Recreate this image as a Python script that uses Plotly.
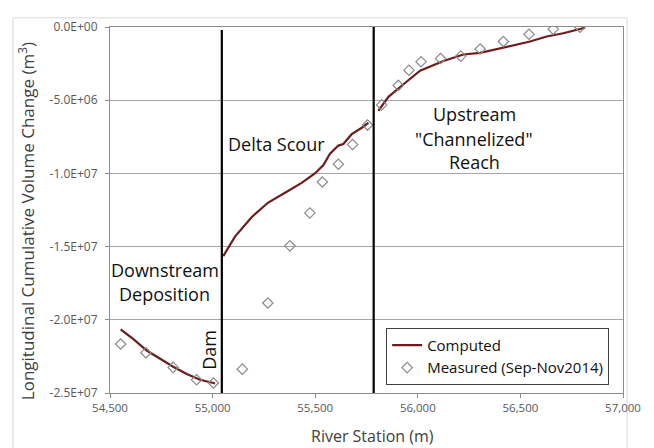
import plotly.graph_objects as go

# Computed series (three reaches)
comp_down_x = [54552, 54614, 54679, 54744, 54808, 54874, 54939, 55004, 55012]
comp_down_y = [-2.065e7, -2.132e7, -2.21e7, -2.265e7, -2.321e7, -2.37e7, -2.41e7, -2.432e7, -2.435e7]
comp_delta_x = [55052, 55109, 55190, 55271, 55353, 55434, 55500, 55540, 55572, 55613, 55637, 55678, 55727, 55759]
comp_delta_y = [-1.565e7, -1.432e7, -1.299e7, -1.199e7, -1.132e7, -1.065e7, -9.99e6, -9.43e6, -8.65e6,
                -8.1e6, -7.99e6, -7.32e6, -6.88e6, -6.55e6]
comp_up_x = [55808, 55857, 55914, 56011, 56125, 56222, 56304, 56417, 56547, 56628, 56709, 56815]
comp_up_y = [-5.72e6, -4.77e6, -4.1e6, -2.99e6, -2.32e6, -1.88e6, -1.77e6, -1.43e6, -9.9e5, -6.5e5, -4.3e5, -5e4]

# Measured series
meas_x = [54552, 54675, 54808, 54922, 55004, 55145, 55269, 55377, 55474, 55535, 55613, 55682, 55755,
          55824, 55905, 55957, 56016, 56111, 56209, 56304, 56417, 56542, 56660, 56790]
meas_y = [-2.165e7, -2.225e7, -2.325e7, -2.41e7, -2.432e7, -2.337e7, -1.885e7, -1.495e7, -1.27e7, -1.059e7,
          -9.37e6, -8.03e6, -6.7e6, -5.32e6, -3.99e6, -2.95e6, -2.37e6, -2.15e6, -1.99e6, -1.5e6,
          -9.9e5, -5e5, -1.5e5, -2e4]

# Reach boundaries
dam_station = 55045
upstream_boundary = 55785

y_tickvals = [0, -5e6, -1e7, -1.5e7, -2e7, -2.5e7]
y_ticktext = ["0.0E+00", "-5.0E+06", "-1.0E+07", "-1.5E+07", "-2.0E+07", "-2.5E+07"]
x_tickvals = [54500, 55000, 55500, 56000, 56500, 57000]

line_color = "#6e1c1c"
marker_color = "#8a8a8a"
font_family = "'Open Sans', Lato, sans-serif"

fig = go.Figure()
for i, (xs, ys) in enumerate([(comp_down_x, comp_down_y), (comp_delta_x, comp_delta_y), (comp_up_x, comp_up_y)]):
    fig.add_trace(go.Scatter(x=xs, y=ys, mode="lines", name="Computed",
                             line=dict(color=line_color, width=2.2),
                             showlegend=(i == 0), legendgroup="c"))
fig.add_trace(go.Scatter(x=meas_x, y=meas_y, mode="markers", name="Measured (Sep-Nov2014)",
                         marker=dict(symbol="diamond-open", size=8, color=marker_color, line=dict(width=1.2))))

fig.add_shape(type="line", xref="x", yref="y", x0=dam_station, x1=dam_station, y0=-2.5e7, y1=-2e5,
              line=dict(color="black", width=2.2))
fig.add_shape(type="line", xref="x", yref="y", x0=upstream_boundary, x1=upstream_boundary, y0=-2.5e7, y1=0,
              line=dict(color="black", width=2.2))
# outer chart frame
fig.add_shape(type="rect", xref="paper", yref="paper", x0=-0.189, x1=1.008, y0=-0.25, y1=1.025,
              line=dict(color="#d9d9d9", width=1), layer="below")

txt_font = dict(family=font_family, size=18, color="#111111")
for t, x, y in [("Delta Scour", 55309, -7.99e6), ("Upstream", 56274, -5.93e6),
                ("\"Channelized\"", 56274, -7.65e6), ("Reach", 56274, -9.21e6),
                ("Downstream", 54768, -1.657e7), ("Deposition", 54768, -1.823e7)]:
    fig.add_annotation(x=x, y=y, text=t, showarrow=False, font=txt_font, xanchor="center", yanchor="middle")
fig.add_annotation(x=54979, y=-2.203e7, text="Dam", textangle=-90, showarrow=False, font=txt_font)

fig.add_annotation(xref="paper", yref="paper", x=0.511, y=-0.117, text="River Station (m)", showarrow=False,
                   yanchor="middle", xanchor="center",
                   font=dict(family=font_family, size=16, color="#404040"))
fig.add_annotation(xref="paper", yref="paper", x=-0.164, y=0.469, textangle=-90,
                   text="Longitudinal Cumulative Volume Change (m<sup>3</sup>)", showarrow=False,
                   yanchor="middle", xanchor="center",
                   font=dict(family=font_family, size=17, color="#404040"))

fig.update_xaxes(range=[54500, 57000], tickvals=x_tickvals, tickformat=",", showgrid=False,
                 showline=True, linecolor="#8c8c8c", linewidth=1, mirror=True,
                 ticks="outside", ticklen=4, tickcolor="#8c8c8c",
                 tickfont=dict(family=font_family, size=11.5, color="#595959"), zeroline=False)
fig.update_yaxes(range=[-2.5e7, 0], tickvals=y_tickvals, ticktext=y_ticktext, showgrid=True,
                 gridcolor="#a6a6a6", gridwidth=1, showline=True, linecolor="#8c8c8c", linewidth=1, mirror=True,
                 ticks="outside", ticklen=4, tickcolor="#8c8c8c", ticklabelstandoff=5,
                 tickfont=dict(family=font_family, size=12, color="#595959"), zeroline=False)

fig.update_layout(width=646, height=440, margin=dict(l=102, r=31, t=10, b=55),
                  plot_bgcolor="white", paper_bgcolor="white",
                  legend=dict(x=0.973, y=0.178, xanchor="right", yanchor="top",
                              bordercolor="#404040", borderwidth=1, bgcolor="white",
                              font=dict(family=font_family, size=15, color="#111111"),
                              itemwidth=30, tracegroupgap=0))
fig.write_html("out.html")
